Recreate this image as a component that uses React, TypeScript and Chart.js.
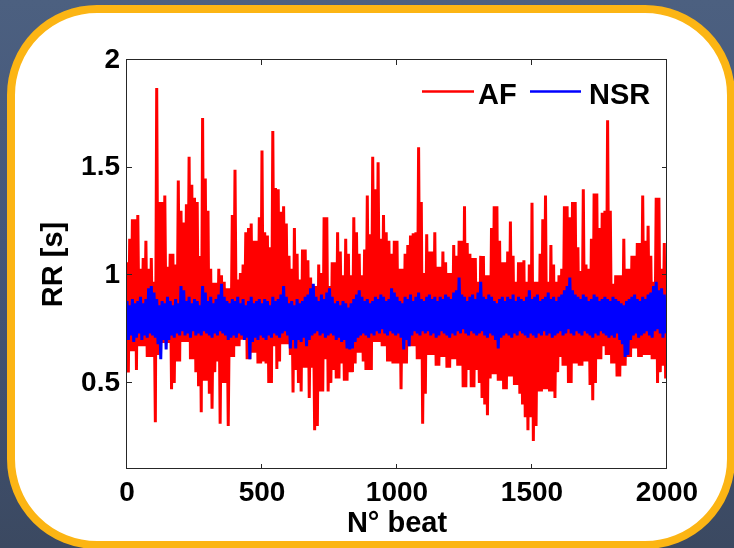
import React, { useEffect, useRef } from "react";
import { Chart, registerables } from "chart.js";

Chart.register(...registerables);

// ---- data ----
const X_TICKS = [0, 500, 1000, 1500, 2000];
const Y_TICKS = [0.5, 1, 1.5, 2];
const BEATS_PER_BIN = 10;
const LABEL_AF = "AF";
const LABEL_NSR = "NSR";

// AF: highest RR in each 10-beat bin
const AF_HIGH = [
  1.06, 1.17, 1.26, 1.26, 1.28, 1.03, 1.08, 1.16, 1.03, 1.08,
  0.97, 1.87, 1.34, 1.34, 1.37, 1.04, 1.10, 1.10, 1.05, 1.44,
  1.30, 1.245, 1.33, 1.55, 1.42, 1.36, 1.34, 1.09, 1.73, 1.45,
  1.30, 1.03, 0.965, 0.965, 1.03, 1.00, 0.97, 0.94, 0.94, 1.28,
  1.49, 0.98, 1.01, 1.05, 1.20, 1.22, 1.24, 1.16, 1.16, 1.27,
  1.58, 1.20, 1.185, 1.13, 1.67, 1.405, 1.40, 1.295, 1.32, 1.24,
  1.09, 1.03, 1.22, 1.10, 0.98, 1.12, 1.12, 1.07, 0.99, 0.95,
  0.95, 1.05, 1.01, 1.27, 1.27, 0.95, 1.06, 1.06, 1.20, 1.11,
  1.00, 1.17, 1.10, 1.00, 1.27, 1.20, 1.10, 1.00, 1.12, 1.37,
  1.19, 1.55, 1.40, 1.525, 1.17, 1.28, 1.20, 1.16, 1.10, 1.16,
  1.16, 1.03, 1.03, 1.10, 1.14, 1.185, 1.195, 1.20, 1.595, 1.34,
  1.01, 1.19, 1.11, 1.11, 1.20, 1.04, 1.04, 1.11, 1.06, 1.01,
  1.01, 1.14, 1.09, 1.16, 1.16, 1.32, 1.15, 1.10, 1.08, 1.08,
  0.97, 1.09, 1.09, 1.00, 1.00, 1.22, 1.32, 1.32, 1.16, 1.06,
  1.06, 1.11, 1.25, 1.09, 0.97, 1.06, 1.06, 1.07, 0.97, 1.05,
  1.337, 0.97, 0.97, 1.10, 1.26, 1.37, 0.97, 1.14, 1.05, 0.97,
  1.00, 1.03, 1.32, 1.32, 1.27, 1.34, 1.34, 1.13, 1.02, 1.40,
  1.05, 1.03, 1.17, 1.38, 1.38, 1.22, 1.29, 1.30, 1.72, 1.30,
  0.96, 1.00, 1.00, 1.00, 1.17, 1.03, 1.03, 1.09, 1.09, 1.15,
  1.15, 1.37, 1.16, 1.23, 1.09, 0.97, 1.36, 1.36, 1.03, 1.15,
];

// AF: lowest RR in each 10-beat bin
const AF_LOW = [
  0.548, 0.647, 0.647, 0.56, 0.67, 0.67, 0.67, 0.62, 0.62, 0.62,
  0.317, 0.63, 0.685, 0.685, 0.685, 0.685, 0.47, 0.50, 0.60, 0.60,
  0.69, 0.69, 0.69, 0.61, 0.61, 0.55, 0.485, 0.364, 0.51, 0.51,
  0.45, 0.38, 0.55, 0.60, 0.31, 0.50, 0.50, 0.30, 0.62, 0.62,
  0.67, 0.67, 0.70, 0.70, 0.61, 0.61, 0.64, 0.64, 0.59, 0.59,
  0.60, 0.59, 0.50, 0.50, 0.67, 0.565, 0.60, 0.68, 0.68, 0.68,
  0.63, 0.455, 0.56, 0.50, 0.46, 0.57, 0.57, 0.43, 0.57, 0.28,
  0.30, 0.46, 0.46, 0.61, 0.46, 0.50, 0.56, 0.52, 0.52, 0.59,
  0.51, 0.51, 0.55, 0.55, 0.59, 0.64, 0.64, 0.60, 0.56, 0.56,
  0.56, 0.69, 0.69, 0.69, 0.67, 0.67, 0.60, 0.60, 0.59, 0.59,
  0.59, 0.47, 0.59, 0.59, 0.67, 0.67, 0.67, 0.61, 0.61, 0.31,
  0.45, 0.63, 0.63, 0.63, 0.58, 0.58, 0.62, 0.62, 0.57, 0.57,
  0.61, 0.61, 0.58, 0.58, 0.48, 0.48, 0.56, 0.48, 0.48, 0.56,
  0.50, 0.43, 0.40, 0.35, 0.52, 0.54, 0.54, 0.51, 0.51, 0.47,
  0.47, 0.53, 0.53, 0.49, 0.49, 0.45, 0.40, 0.34, 0.28, 0.34,
  0.23, 0.30, 0.46, 0.46, 0.47, 0.47, 0.46, 0.46, 0.43, 0.55,
  0.62, 0.58, 0.58, 0.50, 0.50, 0.59, 0.59, 0.58, 0.58, 0.60,
  0.60, 0.49, 0.42, 0.50, 0.61, 0.61, 0.67, 0.63, 0.63, 0.59,
  0.59, 0.53, 0.53, 0.58, 0.58, 0.62, 0.62, 0.66, 0.66, 0.62,
  0.62, 0.63, 0.63, 0.63, 0.61, 0.61, 0.50, 0.55, 0.58, 0.52,
];

// NSR: highest RR in each 10-beat bin
const NSR_HIGH = [
  0.88, 0.86, 0.89, 0.87, 0.88, 0.90, 0.87, 0.89, 0.94, 0.95,
  0.92, 0.89, 0.86, 0.88, 0.87, 0.90, 0.88, 0.86, 0.89, 0.87,
  0.95, 0.93, 0.88, 0.90, 0.87, 0.89, 0.88, 0.86, 0.95, 0.92,
  0.88, 0.90, 0.87, 0.89, 0.91, 0.96, 0.90, 0.88, 0.87, 0.89,
  0.88, 0.90, 0.87, 0.89, 0.86, 0.88, 0.90, 0.87, 0.88, 0.89,
  0.87, 0.89, 0.88, 0.86, 0.90, 0.88, 0.89, 0.91, 0.95, 0.90,
  0.87, 0.88, 0.86, 0.89, 0.87, 0.88, 0.90, 0.91, 0.94, 0.96,
  0.90, 0.88, 0.91, 0.89, 0.92, 0.94, 0.90, 0.87, 0.88, 0.86,
  0.88, 0.87, 0.85, 0.87, 0.89, 0.91, 0.93, 0.90, 0.88, 0.89,
  0.87, 0.88, 0.90, 0.89, 0.91, 0.90, 0.88, 0.89, 0.94, 0.92,
  0.90, 0.88, 0.87, 0.90, 0.89, 0.91, 0.88, 0.90, 0.92, 0.89,
  0.88, 0.90, 0.91, 0.89, 0.90, 0.88, 0.90, 0.89, 0.91, 0.90,
  0.89, 0.92, 0.93, 0.99, 0.91, 0.90, 0.88, 0.90, 0.91, 0.89,
  0.92, 0.97, 0.90, 0.89, 0.91, 0.90, 0.88, 0.87, 0.89, 0.90,
  0.88, 0.90, 0.89, 0.91, 0.88, 0.90, 0.89, 0.88, 0.90, 0.93,
  0.89, 0.90, 0.91, 0.88, 0.89, 0.90, 0.92, 0.89, 0.90, 0.88,
  0.90, 0.91, 0.93, 0.95, 0.99, 0.93, 0.91, 0.90, 0.89, 0.91,
  0.90, 0.88, 0.89, 0.91, 0.90, 0.88, 0.89, 0.90, 0.89, 0.88,
  0.90, 0.89, 0.88, 0.87, 0.86, 0.88, 0.89, 0.90, 0.91, 0.89,
  0.88, 0.90, 0.89, 0.91, 0.92, 0.95, 0.97, 0.93, 0.94, 0.91,
];

// NSR: lowest RR in each 10-beat bin
const NSR_LOW = [
  0.70, 0.72, 0.69, 0.71, 0.73, 0.70, 0.72, 0.71, 0.73, 0.72,
  0.71, 0.68, 0.61, 0.70, 0.655, 0.70, 0.72, 0.71, 0.73, 0.72,
  0.74, 0.72, 0.73, 0.71, 0.74, 0.72, 0.73, 0.72, 0.74, 0.73,
  0.72, 0.71, 0.73, 0.72, 0.74, 0.73, 0.72, 0.70, 0.71, 0.72,
  0.71, 0.73, 0.72, 0.70, 0.71, 0.61, 0.69, 0.71, 0.70, 0.72,
  0.71, 0.70, 0.72, 0.71, 0.73, 0.72, 0.71, 0.73, 0.74, 0.72,
  0.66, 0.70, 0.66, 0.70, 0.69, 0.71, 0.67, 0.70, 0.72, 0.73,
  0.74, 0.72, 0.73, 0.71, 0.72, 0.73, 0.72, 0.70, 0.71, 0.69,
  0.70, 0.66, 0.655, 0.66, 0.69, 0.71, 0.72, 0.73, 0.72, 0.71,
  0.73, 0.72, 0.74, 0.73, 0.75, 0.73, 0.72, 0.74, 0.73, 0.72,
  0.73, 0.71, 0.655, 0.70, 0.67, 0.72, 0.74, 0.73, 0.72, 0.74,
  0.73, 0.74, 0.72, 0.73, 0.71, 0.72, 0.74, 0.73, 0.72, 0.71,
  0.73, 0.72, 0.74, 0.73, 0.75, 0.73, 0.72, 0.74, 0.73, 0.72,
  0.73, 0.74, 0.72, 0.71, 0.73, 0.72, 0.70, 0.66, 0.71, 0.72,
  0.73, 0.72, 0.71, 0.73, 0.72, 0.74, 0.73, 0.72, 0.71, 0.73,
  0.72, 0.71, 0.73, 0.72, 0.74, 0.72, 0.73, 0.71, 0.72, 0.73,
  0.74, 0.72, 0.73, 0.75, 0.73, 0.72, 0.74, 0.73, 0.72, 0.74,
  0.73, 0.72, 0.71, 0.73, 0.72, 0.74, 0.73, 0.72, 0.71, 0.72,
  0.71, 0.73, 0.70, 0.68, 0.62, 0.63, 0.70, 0.72, 0.73, 0.71,
  0.72, 0.73, 0.74, 0.72, 0.71, 0.74, 0.75, 0.73, 0.71, 0.73,
];

// Each bin contributes its high and low sample, in beat order
function binsToPoints(high: number[], low: number[]) {
  const pts: { x: number; y: number }[] = [];
  for (let i = 0; i < high.length; i++) {
    pts.push({ x: i * BEATS_PER_BIN, y: high[i] });
    pts.push({ x: i * BEATS_PER_BIN + BEATS_PER_BIN / 2, y: low[i] });
  }
  return pts;
}

const FONT_FAMILY = "'Liberation Sans', Arial, Helvetica, sans-serif";
const AXIS_COLOR = "#262626";

const framePlugin = {
  id: "matlabFrame",
  afterDraw(chart: any) {
    const { ctx, chartArea: a, scales } = chart;
    ctx.save();
    ctx.strokeStyle = AXIS_COLOR;
    ctx.lineWidth = 1;
    ctx.strokeRect(a.left - 0.5, a.top - 0.5, a.right - a.left, a.bottom - a.top);
    ctx.beginPath();
    const tl = 5;
    X_TICKS.forEach((v) => {
      const x = Math.round(scales.x.getPixelForValue(v)) - 0.5;
      ctx.moveTo(x, a.bottom);
      ctx.lineTo(x, a.bottom - tl);
      ctx.moveTo(x, a.top);
      ctx.lineTo(x, a.top + tl);
    });
    Y_TICKS.forEach((v) => {
      const y = Math.round(scales.y.getPixelForValue(v)) - 0.5;
      ctx.moveTo(a.left, y);
      ctx.lineTo(a.left + tl, y);
      ctx.moveTo(a.right, y);
      ctx.lineTo(a.right - tl, y);
    });
    ctx.stroke();

    // legend (inside, top right, no box)
    const ds = chart.data.datasets;
    const lineY = a.top + 31.5;
    const textY = a.top + 43.5;
    ctx.font = `bold 29px ${FONT_FAMILY}`;
    ctx.textBaseline = "alphabetic";
    ctx.textAlign = "left";
    const items = [
      { ds: ds[0], x0: a.right - 245, x1: a.right - 193, tx: a.right - 189 },
      { ds: ds[1], x0: a.right - 137, x1: a.right - 86, tx: a.right - 78 },
    ];
    items.forEach((it) => {
      ctx.strokeStyle = it.ds.borderColor;
      ctx.lineWidth = 2.5;
      ctx.beginPath();
      ctx.moveTo(it.x0, lineY);
      ctx.lineTo(it.x1, lineY);
      ctx.stroke();
      ctx.fillStyle = "#000";
      ctx.fillText(it.ds.label, it.tx, textY);
    });
    ctx.restore();
  },
};

export default function App() {
  const canvasRef = useRef<HTMLCanvasElement | null>(null);

  useEffect(() => {
    if (!canvasRef.current) return;
    const tickFont = { family: FONT_FAMILY, size: 28, weight: "bold" as const };
    const titleFont = { family: FONT_FAMILY, size: 29, weight: "bold" as const };
    const chart = new Chart(canvasRef.current, {
      type: "line",
      data: {
        datasets: [
          {
            label: LABEL_AF,
            data: binsToPoints(AF_HIGH, AF_LOW),
            borderColor: "#FF0000",
            backgroundColor: "#FF0000",
            borderWidth: 3,
            borderJoinStyle: "bevel",
            pointRadius: 0,
            tension: 0,
            fill: false,
            order: 2,
          },
          {
            label: LABEL_NSR,
            data: binsToPoints(NSR_HIGH, NSR_LOW),
            borderColor: "#0000FF",
            backgroundColor: "#0000FF",
            borderWidth: 3,
            borderJoinStyle: "bevel",
            pointRadius: 0,
            tension: 0,
            fill: false,
            order: 1,
          },
        ],
      },
      options: {
        animation: false,
        responsive: false,
        maintainAspectRatio: false,
        devicePixelRatio: 1,
        layout: { padding: { left: 0, right: 67, top: 60, bottom: 0 } },
        plugins: {
          legend: { display: false },
          tooltip: { enabled: false },
        },
        scales: {
          x: {
            type: "linear",
            min: X_TICKS[0],
            max: X_TICKS[X_TICKS.length - 1],
            afterBuildTicks: (s: any) => {
              s.ticks = X_TICKS.map((v) => ({ value: v }));
            },
            afterFit: (s: any) => {
              s.height = 79;
              s.paddingLeft = 0;
              s.paddingRight = 0;
            },
            ticks: {
              font: tickFont,
              color: "#000",
              padding: 7,
              maxRotation: 0,
              autoSkip: false,
              callback: (v: any) => String(v),
            },
            grid: { display: false, drawTicks: false },
            border: { display: false },
            title: {
              display: true,
              text: "N° beat",
              font: titleFont,
              color: "#000",
              padding: { top: 0, bottom: 7 },
            },
          },
          y: {
            type: "linear",
            min: 0.1,
            max: 2,
            afterBuildTicks: (s: any) => {
              s.ticks = Y_TICKS.map((v) => ({ value: v }));
            },
            afterFit: (s: any) => {
              s.width = 127;
              s.paddingTop = 0;
              s.paddingBottom = 0;
            },
            ticks: {
              font: tickFont,
              color: "#000",
              padding: 7,
              autoSkip: false,
              callback: (v: any) => String(v),
            },
            grid: { display: false, drawTicks: false },
            border: { display: false },
            title: {
              display: true,
              text: "RR [s]",
              font: titleFont,
              color: "#000",
              padding: { top: 37, bottom: 0 },
            },
          },
        },
      },
      plugins: [framePlugin],
    } as any);
    return () => chart.destroy();
  }, []);

  return (
    <div
      style={{
        position: "fixed",
        left: 0,
        top: 0,
        width: 734,
        height: 548,
        overflow: "hidden",
        background: "linear-gradient(180deg, #4c6080 0%, #44567a 45%, #3b4961 100%)",
      }}
    >
      <div
        style={{
          position: "absolute",
          left: 7,
          top: 5,
          width: 728,
          height: 544,
          boxSizing: "border-box",
          border: "8px solid #FCB514",
          borderRadius: 90,
          background: "#FFFFFF",
        }}
      />
      <canvas
        ref={canvasRef}
        width={734}
        height={548}
        style={{ position: "absolute", left: 0, top: 0, width: 734, height: 548 }}
      />
    </div>
  );
}
